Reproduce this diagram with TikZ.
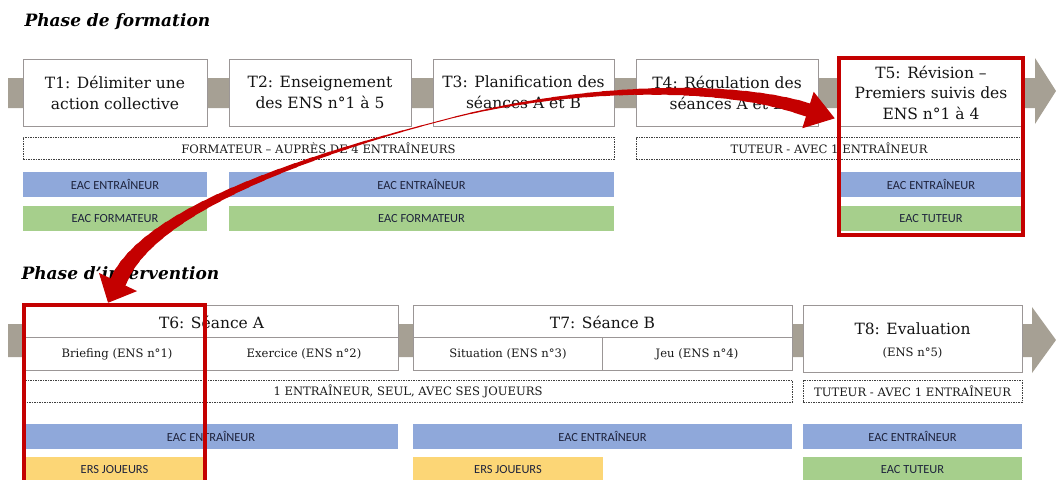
\documentclass[tikz,border=0pt]{standalone}
\usepackage{fontspec}
\setmainfont{DejaVu Serif}
\newfontfamily\barfont{Carlito}
\usetikzlibrary{calc,arrows.meta}

\definecolor{bandgrey}{RGB}{166,160,148}
\definecolor{boxgrey}{RGB}{155,150,150}
\definecolor{eacblue}{RGB}{143,168,218}
\definecolor{eacgreen}{RGB}{166,207,140}
\definecolor{ersorange}{RGB}{252,214,118}
\definecolor{markred}{RGB}{196,0,0}
\definecolor{bartext}{RGB}{30,35,60}

\begin{document}
\begin{tikzpicture}[x=1pt, y=-1pt,
  tasktitle/.style={font=\fontsize{15.5}{21}\selectfont, align=center, text=black!92},
  taskbox/.style={draw=boxgrey, fill=white, line width=0.8pt, inner sep=0pt, minimum height=67pt, tasktitle},
  rolebox/.style={draw=black!75, dash pattern=on 1.5pt off 1pt, line width=0.6pt, inner sep=0pt,
    minimum height=22pt, font=\fontsize{11.6}{13}\selectfont, text=black!90},
  bar/.style={inner sep=0pt, minimum height=25pt, text=bartext, font=\barfont\fontsize{12.4}{14}\selectfont},
  eac/.style={bar, fill=eacblue},
  coach/.style={bar, fill=eacgreen},
  players/.style={bar, fill=ersorange},
  cell/.style={font=\fontsize{11.6}{13}\selectfont, text=black!90},
  phasetitle/.style={anchor=base west, font=\bfseries\itshape\fontsize{17}{20}\selectfont},
  highlight/.style={draw=markred, line width=4pt, inner sep=0pt},
  brush/.style={markred, line cap=round}
]
\useasboundingbox (0,0) rectangle (1056,479);
\clip (0,0) rectangle (1056,479);

% timeline bands
\fill[bandgrey] (8,78) -- (1035,78) -- (1035,58) -- (1056,91) -- (1035,124) -- (1035,108) -- (8,108) -- cycle;
\fill[bandgrey] (8,324) -- (1032,324) -- (1032,307) -- (1056,340) -- (1032,373) -- (1032,357) -- (8,357) -- cycle;

% phase de formation
\node[phasetitle] (pf) at (21,27) {Phase de formation};
\node[taskbox, minimum width=184pt] (t1) at (115,92.5) {T1: Délimiter une\\action collective};
\node[taskbox, minimum width=182pt] (t2) at (320,92.5) {T2: Enseignement\\des ENS n°1 à 5};
\node[taskbox, minimum width=181pt] (t3) at (523.5,92.5) {T3: Planification des\\séances A et B};
\node[taskbox, minimum width=182pt] (t4) at (727,92.5) {T4: Régulation des\\séances A et B};
\node[taskbox, minimum width=182pt, font=\fontsize{15.5}{20.5}\selectfont] (t5) at (931,92.5) {T5: Révision –\\Premiers suivis des\\ENS n°1 à 4};

\node[rolebox, minimum width=591pt] (r1) at (318.5,148) {FORMATEUR – AUPRÈS DE 4 ENTRAÎNEURS};
\node[rolebox, minimum width=386pt] (r2) at (829,148) {TUTEUR - AVEC 1 ENTRAÎNEUR};

\node[eac, minimum width=184pt] (e1) at (115,184.5) {EAC ENTRAÎNEUR};
\node[eac, minimum width=385pt] (e2) at (421.5,184.5) {EAC ENTRAÎNEUR};
\node[eac, minimum width=182pt] (e5) at (931,184.5) {EAC ENTRAÎNEUR};
\node[coach, minimum width=184pt] (c1) at (115,218.5) {EAC FORMATEUR};
\node[coach, minimum width=385pt] (c2) at (421.5,218.5) {EAC FORMATEUR};
\node[coach, minimum width=182pt] (c5) at (931,218.5) {EAC TUTEUR};

% phase d'intervention
\node[phasetitle] (pi) at (18,279) {Phase d’intervention};
\node[taskbox, minimum width=373pt, minimum height=65pt] (t6) at (211.5,337.5) {};
\draw[boxgrey, line width=0.8pt] (t6.west) -- (t6.east);
\node[tasktitle] (t6head) at (211.5,322) {T6: Séance A};
\node[cell] (t6a) at (117,354) {Briefing (ENS n°1)};
\node[cell] (t6b) at (304,354) {Exercice (ENS n°2)};

\node[taskbox, minimum width=379pt, minimum height=65pt] (t7) at (602.5,337.5) {};
\draw[boxgrey, line width=0.8pt] (t7.west) -- (t7.east);
\draw[boxgrey, line width=0.8pt] (t7.center) -- (t7.south);
\node[tasktitle] (t7head) at (602.5,322) {T7: Séance B};
\node[cell] (t7a) at (508,354) {Situation (ENS n°3)};
\node[cell] (t7b) at (697,354) {Jeu (ENS n°4)};

\node[taskbox, minimum width=219pt] (t8) at (912.5,338.5) {};
\node[tasktitle] (t8head) at (912.5,329) {T8: Evaluation};
\node[cell] (t8a) at (912.5,353) {(ENS n°5)};

\node[rolebox, minimum width=768pt] (r3) at (408,391) {1 ENTRAÎNEUR, SEUL, AVEC SES JOUEURS};
\node[rolebox, minimum width=219pt] (r4) at (912.5,391) {TUTEUR - AVEC 1 ENTRAÎNEUR};

\node[eac, minimum width=374pt] (e6) at (211,436.5) {EAC ENTRAÎNEUR};
\node[eac, minimum width=379pt] (e7) at (602.5,436.5) {EAC ENTRAÎNEUR};
\node[eac, minimum width=219pt] (e8) at (912.5,436.5) {EAC ENTRAÎNEUR};
\node[players, minimum width=181pt] (p6) at (114.5,469.5) {ERS JOUEURS};
\node[players, minimum width=190pt] (p7) at (508,469.5) {ERS JOUEURS};
\node[coach, minimum width=219pt] (c8) at (912.5,469.5) {EAC TUTEUR};

% red highlights
\node[highlight, minimum width=184pt, minimum height=177pt] (hl5) at (931,146.5) {};
\node[highlight, minimum width=181pt, minimum height=180pt] (hl6) at (114.5,395) {};

% brush arrows
\coordinate (bend) at (440,121);
\coordinate (endT5) at (808,110);
\coordinate (endT6) at (118,282);
\path (bend) .. controls (560,88) and (720,80) .. (endT5)
  \foreach \i [evaluate=\i as \t using \i/24] in {0,...,24} {coordinate[pos=\t] (a\i)};
\path (bend) .. controls (290,160) and (145,215) .. (endT6)
  \foreach \i [evaluate=\i as \t using \i/24] in {0,...,24} {coordinate[pos=\t] (b\i)};
\foreach \i [evaluate=\i as \j using int(\i+1), evaluate=\i as \w using 0.9+13*((\i+0.5)/24)^1.4] in {0,...,23}
  \draw[brush, line width=\w pt] (a\i) -- (a\j);
\foreach \i [evaluate=\i as \j using int(\i+1), evaluate=\i as \w using 0.9+16*((\i+0.5)/24)^1.4] in {0,...,23}
  \draw[brush, line width=\w pt] (b\i) -- (b\j);
\coordinate (tipT5) at ($(a24)!-28pt!(a23)$);
\coordinate (tipT6) at ($(b24)!-23pt!(b23)$);
\draw[brush, line width=1pt, -{Triangle[width=38pt, length=28pt]}] (a24) -- (tipT5);
\draw[brush, line width=1pt, -{Triangle[width=42pt, length=23pt]}] (b24) -- (tipT6);
\end{tikzpicture}
\end{document}
